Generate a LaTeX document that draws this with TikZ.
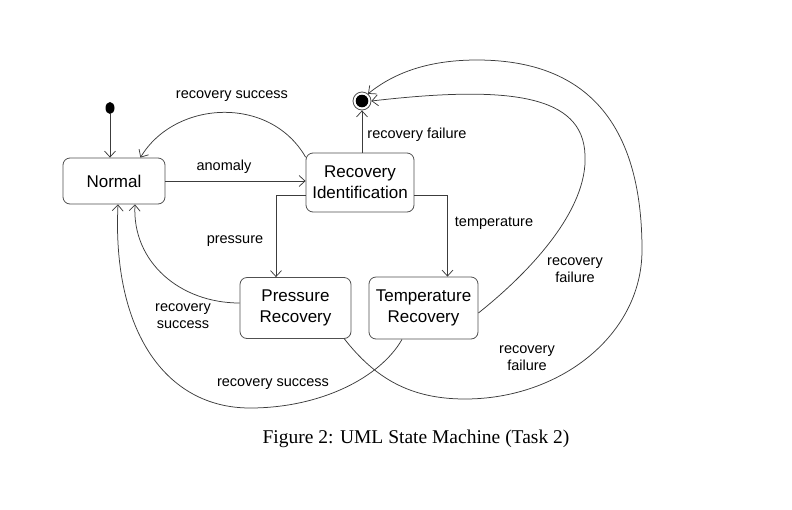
\documentclass[tikz,border=0pt]{standalone}
\usepackage{fontspec}
\setmainfont{Liberation Sans}
\newfontfamily\captionfont{Liberation Serif}
\usetikzlibrary{arrows.meta,positioning,shapes.geometric}
\definecolor{edge}{RGB}{60,60,60}
\definecolor{rim}{RGB}{80,80,80}

\begin{document}
\begin{tikzpicture}[x=1pt,y=-1pt,
    state/.style={draw=rim, line width=0.8pt, rounded corners=7pt, align=center, inner sep=0pt, font=\fontsize{17}{21}\selectfont},
    initial/.style={ellipse, fill=black, minimum width=9pt, minimum height=12pt, inner sep=0pt},
    final/.style={circle, draw=rim, line width=0.8pt, minimum size=18pt, inner sep=0pt,
      path picture={\fill[black] (path picture bounding box.center) circle (6.3pt);}},
    lbl/.style={font=\fontsize{14.5}{17.5}\selectfont, align=center},
    tr/.style={-{Straight Barb[length=6pt,width=11pt]}, draw=edge, line width=0.75pt}
  ]
  \useasboundingbox (0,0) rectangle (792,509);
  \node[initial] (start) at (110,108) {};
  \node[state, minimum width=102pt, minimum height=46pt] (Normal) at (114,181) {Normal};
  \node[state, minimum width=108pt, minimum height=59pt] (RI) at (360,182.5) {Recovery\\Identification};
  \node[final] (fin) at (362,101) {};
  \node[state, minimum width=111pt, minimum height=61pt] (PR) at (295.5,308) {Pressure\\Recovery};
  \node[state, minimum width=109pt, minimum height=62pt] (TR) at (423.5,308) {Temperature\\Recovery};

  \draw[tr] (start) -- (start |- Normal.north);
  \draw[tr] (Normal.east) -- (Normal.east -| RI.west);
  \draw[tr] (RI.155) .. controls (270,95) and (175,100) .. ([xshift=-25pt]Normal.north east);
  \draw[tr] (fin |- RI.north) -- (fin);
  \draw[tr] ([yshift=-13pt]RI.west) -| ([xshift=-19.5pt]PR.north);
  \draw[tr] ([yshift=-13pt]RI.east) -| ([xshift=24pt]TR.north);
  \draw[tr] ([yshift=5pt]PR.west) .. controls (180,303) and (132,262) .. ([xshift=21pt]Normal.south);
  \draw[tr] ([xshift=-21.5pt]TR.south) .. controls (380,378) and (320,408) .. (250,408)
    .. controls (165,408) and (112,330) .. ([xshift=4pt]Normal.south);
  \draw[tr] ([yshift=-5pt]TR.east) .. controls (530,272) and (588,210) .. (585,155)
    .. controls (583,95) and (510,85) .. (fin.east);
  \draw[tr] ([xshift=-7pt]PR.south east) .. controls (375,378) and (410,399) .. (465,399)
    .. controls (560,399) and (642,335) .. (642,250)
    .. controls (642,140) and (600,60) .. (477,60)
    .. controls (430,60) and (395,72) .. (fin.50);

  \node[lbl] (lTopSuccess) at (232,96) {recovery success};
  \node[lbl] (lAnomaly) at (224,167) {anomaly};
  \node[lbl] (lIdFailure) at (417,135) {recovery failure};
  \node[lbl] (lPressure) at (235,241) {pressure};
  \node[lbl] (lTemperature) at (494,223) {temperature};
  \node[lbl] (lTempFailure) at (575,270) {recovery\\failure};
  \node[lbl] (lPresFailure) at (527,358) {recovery\\failure};
  \node[lbl] (lPresSuccess) at (183,316) {recovery\\success};
  \node[lbl] (lTempSuccess) at (273,384) {recovery success};
  \node[font=\captionfont\fontsize{19.5}{22}\selectfont] (caption) at (416,439) {Figure 2: UML State Machine (Task 2)};
\end{tikzpicture}
\end{document}
